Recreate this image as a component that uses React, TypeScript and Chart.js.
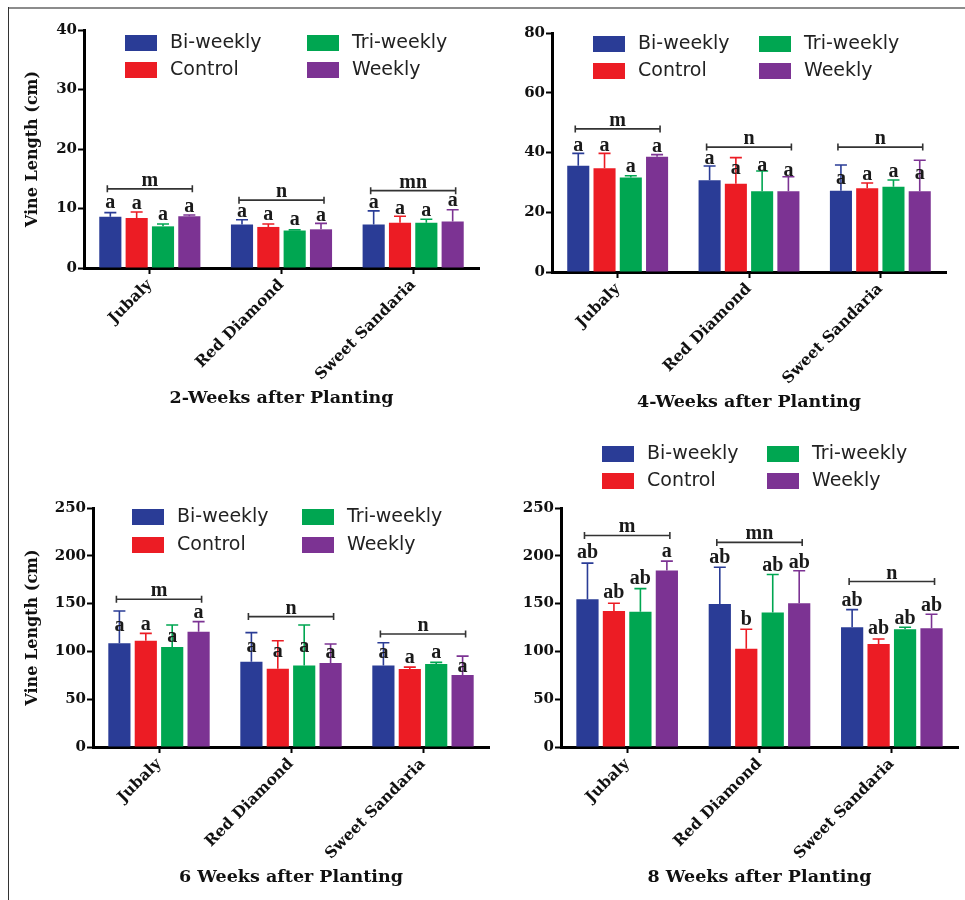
import React, { useEffect, useRef } from 'react';
import { Chart, registerables } from 'chart.js';

Chart.register(...registerables);

// ---------- shared ----------
const categories = ['Jubaly', 'Red Diamond', 'Sweet Sandaria'];
const seriesNames = ['Bi-weekly', 'Control', 'Tri-weekly', 'Weekly'];
const seriesColors = ['#2a3c96', '#ec1c24', '#00a651', '#7c3393'];

// ---------- 2 weeks ----------
const w2BiWeekly = [8.6, 7.3, 7.3];
const w2Control = [8.4, 6.9, 7.6];
const w2TriWeekly = [7.0, 6.3, 7.6];
const w2Weekly = [8.7, 6.5, 7.8];
const w2ErrBiWeekly = [0.7, 0.8, 2.3];
const w2ErrControl = [1.0, 0.5, 1.1];
const w2ErrTriWeekly = [0.4, 0.1, 0.6];
const w2ErrWeekly = [0.2, 1.0, 2.0];
const w2Letters = [['a', 'a', 'a'], ['a', 'a', 'a'], ['a', 'a', 'a'], ['a', 'a', 'a']];
const w2LetterAt = [[10.1, 8.6, 10.1], [9.9, 8.1, 9.1], [8.1, 7.2, 8.7], [9.45, 7.9, 10.5]];
const w2GroupLetters = ['m', 'n', 'mn'];
const w2GroupAt = [13.3, 11.4, 13.0];

// ---------- 4 weeks ----------
const w4BiWeekly = [35.6, 30.7, 27.2];
const w4Control = [34.7, 29.5, 28.0];
const w4TriWeekly = [31.6, 27.0, 28.5];
const w4Weekly = [38.6, 27.0, 27.0];
const w4ErrBiWeekly = [4.1, 4.8, 8.6];
const w4ErrControl = [5.0, 8.8, 1.8];
const w4ErrTriWeekly = [0.6, 6.8, 2.3];
const w4ErrWeekly = [0.7, 4.9, 10.4];
const w4Letters = [['a', 'a', 'a'], ['a', 'a', 'a'], ['a', 'a', 'a'], ['a', 'a', 'a']];
const w4LetterAt = [[40.6, 36.0, 29.4], [40.6, 32.8, 30.8], [33.6, 33.9, 31.7], [40.1, 32.2, 31.0]];
const w4GroupLetters = ['m', 'n', 'n'];
const w4GroupAt = [47.9, 41.8, 41.8];

// ---------- 6 weeks ----------
const w6BiWeekly = [108.4, 89.2, 85.3];
const w6Control = [111.2, 81.8, 81.5];
const w6TriWeekly = [104.5, 85.3, 86.7];
const w6Weekly = [120.6, 87.8, 75.2];
const w6ErrBiWeekly = [33.9, 30.4, 23.8];
const w6ErrControl = [7.7, 29.4, 2.1];
const w6ErrTriWeekly = [23.1, 42.3, 1.8];
const w6ErrWeekly = [10.5, 19.9, 19.9];
const w6Letters = [['a', 'a', 'a'], ['a', 'a', 'a'], ['a', 'a', 'a'], ['a', 'a', 'a']];
const w6LetterAt = [[121.3, 99.0, 92.7], [122.4, 94.4, 87.4], [110.1, 99.7, 92.7], [134.6, 93.4, 78.7]];
const w6GroupLetters = ['m', 'n', 'n'];
const w6GroupAt = [154.5, 136.4, 118.2];

// ---------- 8 weeks ----------
const w8BiWeekly = [154.5, 149.7, 125.2];
const w8Control = [142.3, 102.8, 107.7];
const w8TriWeekly = [141.6, 140.6, 123.1];
const w8Weekly = [184.6, 150.3, 124.1];
const w8ErrBiWeekly = [37.8, 38.4, 18.5];
const w8ErrControl = [8.0, 20.3, 5.2];
const w8ErrTriWeekly = [24.1, 39.8, 2.1];
const w8ErrWeekly = [9.8, 34.0, 14.7];
const w8Letters = [['ab', 'ab', 'ab'], ['ab', 'b', 'ab'], ['ab', 'ab', 'ab'], ['a', 'ab', 'ab']];
const w8LetterAt = [[197.6, 192.3, 147.9], [155.6, 127.6, 117.8], [170.3, 184.6, 128.7], [198.3, 187.1, 142.3]];
const w8GroupLetters = ['m', 'mn', 'n'];
const w8GroupAt = [221.3, 214.0, 173.1];

const yTitleText = 'Vine Length (cm)';

type PanelDef = {
  title: string;
  yMax: number;
  yStep: number;
  yTitle: boolean;
  values: number[][];
  errors: number[][];
  letters: string[][];
  letterAt: number[][];
  groupLetters: string[];
  groupAt: number[];
  left: number; top: number; width: number; height: number;
  padTop: number; padRight: number;
  yAxisW: number; xAxisH: number; titlePadB: number;
  legX: number; legY: number; legCol2: number; legRow: number;
};

const panels: PanelDef[] = [
  {
    title: '2-Weeks after Planting', yMax: 40, yStep: 10, yTitle: true,
    values: [w2BiWeekly, w2Control, w2TriWeekly, w2Weekly],
    errors: [w2ErrBiWeekly, w2ErrControl, w2ErrTriWeekly, w2ErrWeekly],
    letters: w2Letters, letterAt: w2LetterAt, groupLetters: w2GroupLetters, groupAt: w2GroupAt,
    left: 0, top: 0, width: 483, height: 420,
    padTop: 30, padRight: 4, yAxisW: 84, xAxisH: 152, titlePadB: 11.5,
    legX: 125, legY: 35, legCol2: 182, legRow: 27,
  },
  {
    title: '4-Weeks after Planting', yMax: 80, yStep: 20, yTitle: false,
    values: [w4BiWeekly, w4Control, w4TriWeekly, w4Weekly],
    errors: [w4ErrBiWeekly, w4ErrControl, w4ErrTriWeekly, w4ErrWeekly],
    letters: w4Letters, letterAt: w4LetterAt, groupLetters: w4GroupLetters, groupAt: w4GroupAt,
    left: 483, top: 0, width: 482, height: 420,
    padTop: 33, padRight: 19, yAxisW: 69, xAxisH: 148, titlePadB: 7.5,
    legX: 110, legY: 36, legCol2: 166, legRow: 27,
  },
  {
    title: '6 Weeks after Planting', yMax: 250, yStep: 50, yTitle: true,
    values: [w6BiWeekly, w6Control, w6TriWeekly, w6Weekly],
    errors: [w6ErrBiWeekly, w6ErrControl, w6ErrTriWeekly, w6ErrWeekly],
    letters: w6Letters, letterAt: w6LetterAt, groupLetters: w6GroupLetters, groupAt: w6GroupAt,
    left: 0, top: 430, width: 492, height: 470,
    padTop: 78, padRight: 3, yAxisW: 93, xAxisH: 153, titlePadB: 12.5,
    legX: 132, legY: 79, legCol2: 170, legRow: 28,
  },
  {
    title: '8 Weeks after Planting', yMax: 250, yStep: 50, yTitle: false,
    values: [w8BiWeekly, w8Control, w8TriWeekly, w8Weekly],
    errors: [w8ErrBiWeekly, w8ErrControl, w8ErrTriWeekly, w8ErrWeekly],
    letters: w8Letters, letterAt: w8LetterAt, groupLetters: w8GroupLetters, groupAt: w8GroupAt,
    left: 483, top: 430, width: 482, height: 470,
    padTop: 78, padRight: 7, yAxisW: 78, xAxisH: 153, titlePadB: 12.5,
    legX: 119, legY: 16, legCol2: 165, legRow: 27,
  },
];

const SERIF = '"DejaVu Serif", serif';
const LETTER_FONT = 'bold 20px "Liberation Serif", "Times New Roman", serif';

function makeOverlay(p: PanelDef) {
  return {
    id: 'overlay',
    afterDatasetsDraw(chart: any) {
      const ctx: CanvasRenderingContext2D = chart.ctx;
      const y = chart.scales.y;
      ctx.save();
      // error bars (upper only)
      p.values.forEach((vals, si) => {
        const meta = chart.getDatasetMeta(si);
        vals.forEach((v, ci) => {
          const bar = meta.data[ci];
          const top = y.getPixelForValue(v + p.errors[si][ci]);
          const base = y.getPixelForValue(v);
          ctx.strokeStyle = seriesColors[si];
          ctx.lineWidth = 1.6;
          ctx.beginPath();
          ctx.moveTo(bar.x, base);
          ctx.lineTo(bar.x, top);
          ctx.moveTo(bar.x - 6, top);
          ctx.lineTo(bar.x + 6, top);
          ctx.stroke();
        });
      });
      // letters
      ctx.fillStyle = '#1a1a1a';
      ctx.font = LETTER_FONT;
      ctx.textAlign = 'center';
      ctx.textBaseline = 'alphabetic';
      p.letters.forEach((row, si) => {
        const meta = chart.getDatasetMeta(si);
        row.forEach((txt, ci) => {
          ctx.fillText(txt, meta.data[ci].x, y.getPixelForValue(p.letterAt[si][ci]));
        });
      });
      // group brackets
      const m0 = chart.getDatasetMeta(0);
      const m3 = chart.getDatasetMeta(3);
      p.groupLetters.forEach((txt, ci) => {
        const x1 = m0.data[ci].x - 3;
        const x2 = m3.data[ci].x + 3;
        const yy = y.getPixelForValue(p.groupAt[ci]);
        ctx.strokeStyle = '#333';
        ctx.lineWidth = 1.6;
        ctx.beginPath();
        ctx.moveTo(x1, yy);
        ctx.lineTo(x2, yy);
        ctx.moveTo(x1, yy - 3.5);
        ctx.lineTo(x1, yy + 3.5);
        ctx.moveTo(x2, yy - 3.5);
        ctx.lineTo(x2, yy + 3.5);
        ctx.stroke();
        ctx.fillText(txt, (x1 + x2) / 2, yy - 3);
      });
      // legend (column-major, 2x2)
      ctx.font = '19px "DejaVu Sans", sans-serif';
      ctx.textAlign = 'left';
      ctx.textBaseline = 'middle';
      chart.data.datasets.forEach((ds: any, si: number) => {
        const col = Math.floor(si / 2);
        const row = si % 2;
        const bx = p.legX + col * p.legCol2;
        const by = p.legY + row * p.legRow;
        ctx.fillStyle = ds.backgroundColor;
        ctx.fillRect(bx, by, 32, 16);
        ctx.fillStyle = '#222';
        ctx.fillText(ds.label, bx + 45, by + 8.5);
      });
      ctx.restore();
    },
  };
}

function PanelChart({ p }: { p: PanelDef }) {
  const ref = useRef<HTMLCanvasElement>(null);
  useEffect(() => {
    if (!ref.current) return;
    const chart = new Chart(ref.current, {
      type: 'bar',
      data: {
        labels: categories,
        datasets: seriesNames.map((name, si) => ({
          label: name,
          data: p.values[si],
          backgroundColor: seriesColors[si],
          borderWidth: 0,
          categoryPercentage: 0.8,
          barPercentage: 0.84,
        })),
      },
      options: {
        responsive: false,
        animation: false,
        devicePixelRatio: 1,
        layout: { padding: { left: 0, top: p.padTop, right: p.padRight, bottom: 0 } },
        plugins: { legend: { display: false }, tooltip: { enabled: false }, title: { display: false } },
        scales: {
          x: {
            afterFit: (s: any) => { s.height = p.xAxisH; },
            grid: { display: true, drawOnChartArea: false, offset: false, tickLength: 6, tickWidth: 2, tickColor: '#000' },
            border: { display: true, color: '#000', width: 3 },
            ticks: {
              autoSkip: false, minRotation: 45, maxRotation: 45, padding: 2,
              color: '#111', font: { family: SERIF, weight: 'bold', size: 15.5 },
            },
            title: {
              display: true, text: p.title, color: '#111',
              font: { family: SERIF, weight: 'bold', size: 17.5 },
              padding: { top: 0, bottom: p.titlePadB },
            },
          },
          y: {
            min: 0, max: p.yMax,
            afterFit: (s: any) => { s.width = p.yAxisW; },
            grid: { display: true, drawOnChartArea: false, tickLength: 6, tickWidth: 2, tickColor: '#000' },
            border: { display: true, color: '#000', width: 3 },
            ticks: {
              stepSize: p.yStep, padding: 1, color: '#111',
              font: { family: SERIF, weight: 'bold', size: 15 },
            },
            title: {
              display: p.yTitle, text: yTitleText, color: '#111',
              font: { family: SERIF, weight: 'bold', size: 16 },
              padding: { top: 23.4, bottom: 0 },
            },
          },
        },
      },
      plugins: [makeOverlay(p)],
    } as any);
    return () => chart.destroy();
  }, [p]);
  return (
    <canvas
      ref={ref}
      width={p.width}
      height={p.height}
      style={{ position: 'absolute', left: p.left, top: p.top, width: p.width, height: p.height }}
    />
  );
}

export default function App() {
  return (
    <div style={{ position: 'absolute', left: 0, top: 0, width: 965, height: 900, background: '#fff', overflow: 'hidden' }}>
      <div style={{ position: 'absolute', left: 8, top: 7, width: 957, height: 2, background: '#8c8c8c' }} />
      <div style={{ position: 'absolute', left: 8, top: 7, width: 1, height: 893, background: '#333' }} />
      {panels.map((p, i) => (
        <PanelChart key={i} p={p} />
      ))}
    </div>
  );
}
